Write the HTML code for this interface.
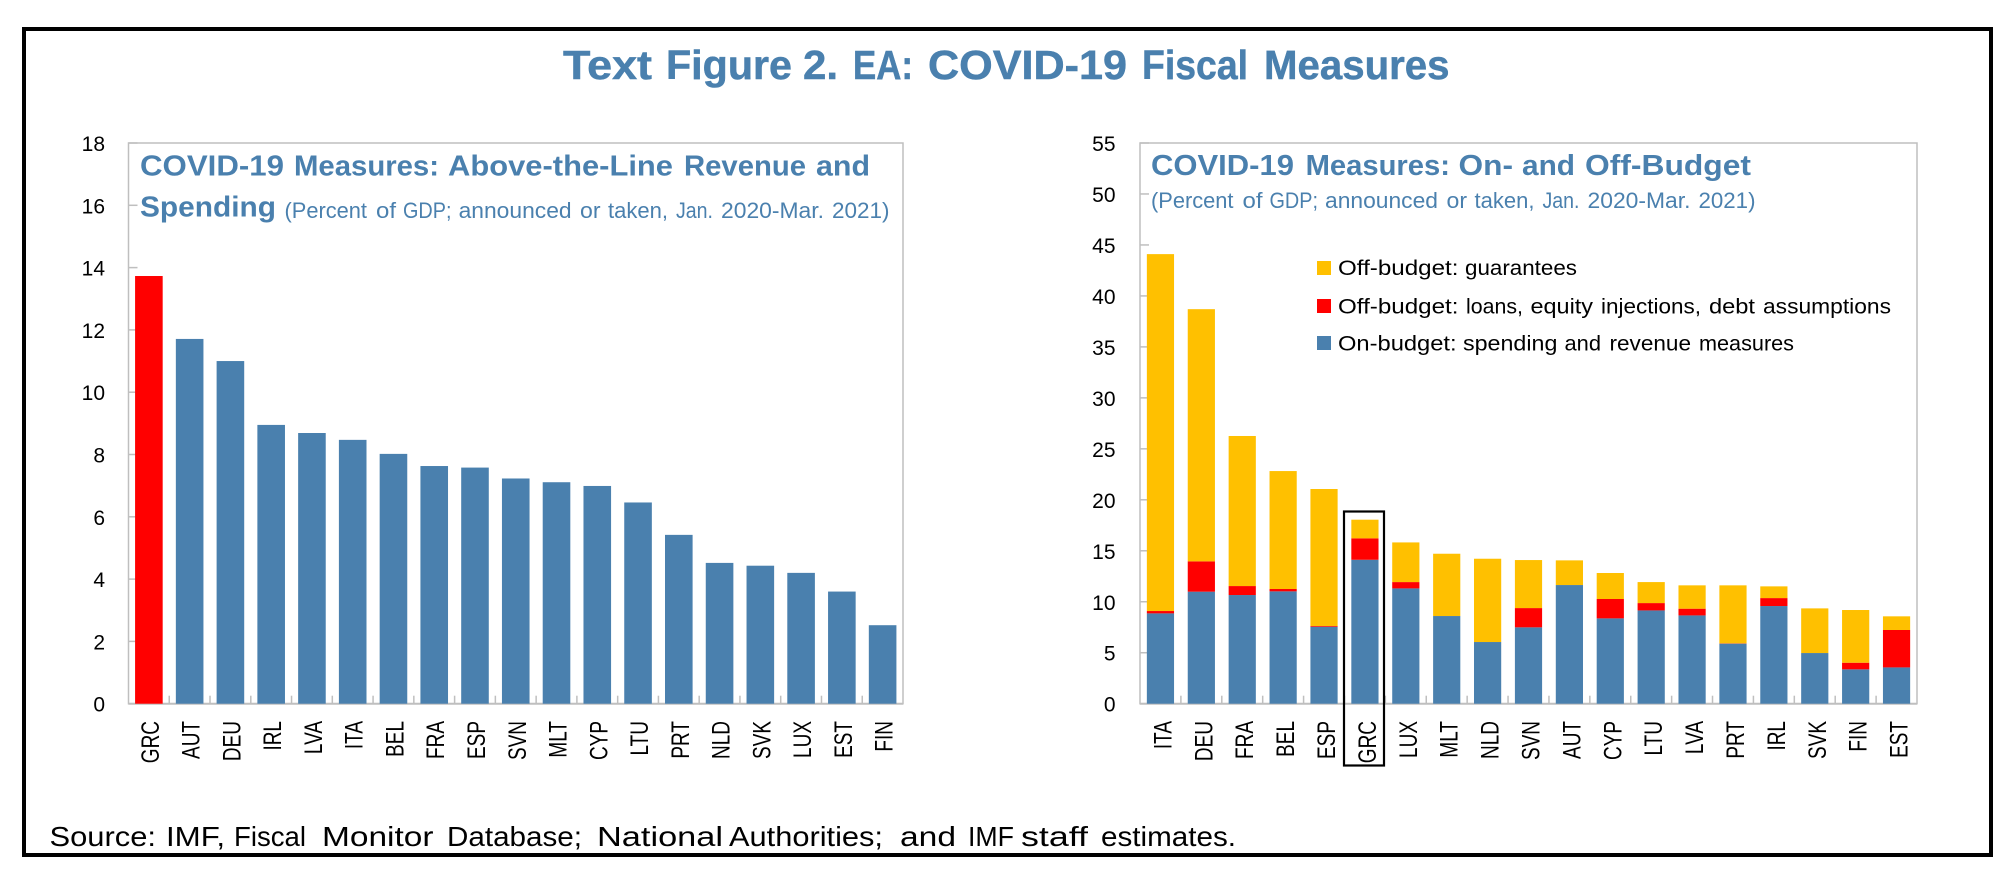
<!DOCTYPE html>
<html lang="en">
<head>
<meta charset="utf-8">
<title>Text Figure 2. EA: COVID-19 Fiscal Measures</title>
<style>
html,body{margin:0;padding:0;background:#fff;width:2014px;height:890px;overflow:hidden}
svg{display:block}
text{font-family:"Liberation Sans",sans-serif}
</style>
</head>
<body>
<svg id="figure" width="2014" height="890" viewBox="0 0 2014 890" xmlns="http://www.w3.org/2000/svg">
  <rect x="24" y="29" width="1967" height="826" fill="#fff" stroke="#000" stroke-width="4"/>
  <text y="79" font-size="41" font-weight="700" fill="#4a80ae" stroke="#4a80ae" stroke-width="0.5"><tspan x="563" textLength="89" lengthAdjust="spacingAndGlyphs">Text</tspan> <tspan x="666" textLength="126" lengthAdjust="spacingAndGlyphs">Figure</tspan> <tspan x="803" textLength="35" lengthAdjust="spacingAndGlyphs">2.</tspan> <tspan x="853" textLength="60" lengthAdjust="spacingAndGlyphs">EA:</tspan> <tspan x="928" textLength="199" lengthAdjust="spacingAndGlyphs">COVID-19</tspan> <tspan x="1142" textLength="106" lengthAdjust="spacingAndGlyphs">Fiscal</tspan> <tspan x="1264" textLength="185.5" lengthAdjust="spacingAndGlyphs">Measures</tspan></text>

  <g id="left-chart">
    <rect x="128.5" y="143" width="774.5" height="560.7" fill="#fff" stroke="#bfbfbf" stroke-width="1.5"/>
    <g id="left-marks"></g>
    <text y="175.5" font-size="29" font-weight="700" fill="#4a80ae"><tspan x="140" textLength="144" lengthAdjust="spacingAndGlyphs">COVID-19</tspan> <tspan x="294" textLength="145" lengthAdjust="spacingAndGlyphs">Measures:</tspan> <tspan x="448" textLength="225" lengthAdjust="spacingAndGlyphs">Above-the-Line</tspan> <tspan x="684" textLength="122" lengthAdjust="spacingAndGlyphs">Revenue</tspan> <tspan x="816" textLength="54" lengthAdjust="spacingAndGlyphs">and</tspan></text>
    <text x="140" y="216.5" font-size="29" font-weight="700" fill="#4a80ae" textLength="136" lengthAdjust="spacingAndGlyphs">Spending</text>
    <text y="218" font-size="22" fill="#4a80ae"><tspan x="284.5" textLength="82.5" lengthAdjust="spacingAndGlyphs">(Percent</tspan> <tspan x="376" textLength="20" lengthAdjust="spacingAndGlyphs">of</tspan> <tspan x="403" textLength="48.5" lengthAdjust="spacingAndGlyphs">GDP;</tspan> <tspan x="458.6" textLength="113" lengthAdjust="spacingAndGlyphs">announced</tspan> <tspan x="580" textLength="20.5" lengthAdjust="spacingAndGlyphs">or</tspan> <tspan x="608" textLength="60" lengthAdjust="spacingAndGlyphs">taken,</tspan> <tspan x="676" textLength="37" lengthAdjust="spacingAndGlyphs">Jan.</tspan> <tspan x="721" textLength="103" lengthAdjust="spacingAndGlyphs">2020-Mar.</tspan> <tspan x="832" textLength="57.5" lengthAdjust="spacingAndGlyphs">2021)</tspan></text>
  </g>

  <g id="right-chart">
    <rect x="1140" y="143" width="777" height="560.7" fill="#fff" stroke="#bfbfbf" stroke-width="1.5"/>
    <g id="right-marks"></g>
    <text y="175" font-size="29" font-weight="700" fill="#4a80ae"><tspan x="1151" textLength="143" lengthAdjust="spacingAndGlyphs">COVID-19</tspan> <tspan x="1305.6" textLength="144.4" lengthAdjust="spacingAndGlyphs">Measures:</tspan> <tspan x="1458.5" textLength="54.5" lengthAdjust="spacingAndGlyphs">On-</tspan> <tspan x="1522" textLength="53" lengthAdjust="spacingAndGlyphs">and</tspan> <tspan x="1585" textLength="166" lengthAdjust="spacingAndGlyphs">Off-Budget</tspan></text>
    <text y="208" font-size="22" fill="#4a80ae"><tspan x="1151" textLength="82.5" lengthAdjust="spacingAndGlyphs">(Percent</tspan> <tspan x="1242.5" textLength="20" lengthAdjust="spacingAndGlyphs">of</tspan> <tspan x="1269.5" textLength="48.5" lengthAdjust="spacingAndGlyphs">GDP;</tspan> <tspan x="1325" textLength="113" lengthAdjust="spacingAndGlyphs">announced</tspan> <tspan x="1446.5" textLength="20.5" lengthAdjust="spacingAndGlyphs">or</tspan> <tspan x="1474.5" textLength="60" lengthAdjust="spacingAndGlyphs">taken,</tspan> <tspan x="1542.5" textLength="37" lengthAdjust="spacingAndGlyphs">Jan.</tspan> <tspan x="1587.5" textLength="103" lengthAdjust="spacingAndGlyphs">2020-Mar.</tspan> <tspan x="1698.5" textLength="57" lengthAdjust="spacingAndGlyphs">2021)</tspan></text>
    <g>
      <g>
        <rect x="1317" y="261" width="14" height="14" fill="#ffc000"/>
        <text y="275" font-size="21" fill="#000"><tspan x="1338" textLength="120.5" lengthAdjust="spacingAndGlyphs">Off-budget:</tspan> <tspan x="1465" textLength="112" lengthAdjust="spacingAndGlyphs">guarantees</tspan></text>
      </g>
      <g>
        <rect x="1317" y="299" width="14" height="14" fill="#ff0000"/>
        <text y="313.5" font-size="21" fill="#000"><tspan x="1338" textLength="120.5" lengthAdjust="spacingAndGlyphs">Off-budget:</tspan> <tspan x="1466" textLength="57" lengthAdjust="spacingAndGlyphs">loans,</tspan> <tspan x="1530.5" textLength="62.5" lengthAdjust="spacingAndGlyphs">equity</tspan> <tspan x="1601" textLength="100" lengthAdjust="spacingAndGlyphs">injections,</tspan> <tspan x="1709" textLength="46" lengthAdjust="spacingAndGlyphs">debt</tspan> <tspan x="1763" textLength="128" lengthAdjust="spacingAndGlyphs">assumptions</tspan></text>
      </g>
      <g>
        <rect x="1317" y="336" width="14" height="14" fill="#4a80ae"/>
        <text y="350.5" font-size="21" fill="#000"><tspan x="1338" textLength="118.6" lengthAdjust="spacingAndGlyphs">On-budget:</tspan> <tspan x="1463" textLength="94.4" lengthAdjust="spacingAndGlyphs">spending</tspan> <tspan x="1564.5" textLength="36.5" lengthAdjust="spacingAndGlyphs">and</tspan> <tspan x="1609.5" textLength="81.5" lengthAdjust="spacingAndGlyphs">revenue</tspan> <tspan x="1699" textLength="95" lengthAdjust="spacingAndGlyphs">measures</tspan></text>
      </g>
    </g>
    <rect x="1344" y="511.5" width="40" height="254" fill="none" stroke="#000" stroke-width="2.2"/>
  </g>

  <text y="846" font-size="28" fill="#000"><tspan x="49.5" textLength="106.5" lengthAdjust="spacingAndGlyphs">Source:</tspan> <tspan x="166" textLength="59" lengthAdjust="spacingAndGlyphs">IMF,</tspan> <tspan x="234" textLength="72" lengthAdjust="spacingAndGlyphs">Fiscal</tspan> <tspan x="322" textLength="111.5" lengthAdjust="spacingAndGlyphs">Monitor</tspan> <tspan x="447" textLength="135" lengthAdjust="spacingAndGlyphs">Database;</tspan> <tspan x="597" textLength="126" lengthAdjust="spacingAndGlyphs">National</tspan> <tspan x="729" textLength="154" lengthAdjust="spacingAndGlyphs">Authorities;</tspan> <tspan x="900" textLength="56" lengthAdjust="spacingAndGlyphs">and</tspan> <tspan x="968" textLength="46" lengthAdjust="spacingAndGlyphs">IMF</tspan> <tspan x="1021" textLength="67" lengthAdjust="spacingAndGlyphs">staff</tspan> <tspan x="1101" textLength="135" lengthAdjust="spacingAndGlyphs">estimates.</tspan></text>
</svg>

<script>
const leftCategories = ["GRC","AUT","DEU","IRL","LVA","ITA","BEL","FRA","ESP","SVN","MLT","CYP","LTU","PRT","NLD","SVK","LUX","EST","FIN"];
const leftValues = [13.73,11.71,11.0,8.95,8.69,8.47,8.02,7.63,7.58,7.23,7.11,6.99,6.46,5.42,4.52,4.43,4.2,3.6,2.52];
const leftTicks = [0,2,4,6,8,10,12,14,16,18];

const rightCategories = ["ITA","DEU","FRA","BEL","ESP","GRC","LUX","MLT","NLD","SVN","AUT","CYP","LTU","LVA","PRT","IRL","SVK","FIN","EST"];
const onBudget = [8.86,10.99,10.66,11.02,7.55,14.12,11.31,8.6,6.05,7.49,11.64,8.37,9.15,8.66,5.89,9.58,4.97,3.37,3.56];
const loans = [0.23,2.97,0.88,0.23,0.07,2.1,0.62,0,0,1.89,0,1.9,0.72,0.66,0.03,0.78,0,0.65,3.67];
const guarantees = [35.01,24.74,14.72,11.57,13.44,1.83,3.89,6.11,8.17,4.71,2.42,2.55,2.06,2.29,5.69,1.15,4.38,5.17,1.34];
const rightTicks = [0,5,10,15,20,25,30,35,40,45,50,55];

const NS = "http://www.w3.org/2000/svg";
const BLUE = "#4a80ae", RED = "#ff0000", YELLOW = "#ffc000", GRID = "#bfbfbf";

function svgEl(tag) { return document.createElementNS(NS, tag); }

function drawAxes(root, cats, ticks, maxV, left, right, top, bottom, labelX, labelShift) {
  const n = cats.length;
  const step = (right - left) / n;
  const y = function (v) { return bottom - (v / maxV) * (bottom - top); };
  ticks.forEach(function (t) {
    const tick = svgEl("line");
    tick.setAttribute("x1", left);
    tick.setAttribute("x2", left + 9);
    tick.setAttribute("y1", y(t));
    tick.setAttribute("y2", y(t));
    tick.setAttribute("stroke", GRID);
    tick.setAttribute("stroke-width", "1.5");
    
    
    root.appendChild(tick);
    const lab = svgEl("text");
    lab.setAttribute("x", labelX);
    lab.setAttribute("y", y(t) + 8);
    lab.setAttribute("text-anchor", "end");
    lab.setAttribute("font-size", "21");
    lab.setAttribute("fill", "#000");
    lab.textContent = String(t);
    
    
    root.appendChild(lab);
  });
  cats.forEach(function (c, i) {
    if (i > 0) {
      const tick = svgEl("line");
      tick.setAttribute("x1", left + i * step);
      tick.setAttribute("x2", left + i * step);
      tick.setAttribute("y1", bottom);
      tick.setAttribute("y2", bottom - 8);
      tick.setAttribute("stroke", GRID);
      tick.setAttribute("stroke-width", "1.5");
      
      
      root.appendChild(tick);
    }
    const lab = svgEl("text");
    const cx = left + (i + 0.5) * step + labelShift;
    lab.setAttribute("transform", "translate(" + (cx + 10) + ",721) rotate(-90) scale(0.76,1)");
    lab.setAttribute("text-anchor", "end");
    lab.setAttribute("font-size", "25");
    lab.setAttribute("fill", "#000");
    lab.textContent = c;
    
    
    root.appendChild(lab);
  });
  const axis = svgEl("line");
  axis.setAttribute("x1", left);
  axis.setAttribute("x2", right);
  axis.setAttribute("y1", bottom);
  axis.setAttribute("y2", bottom);
  axis.setAttribute("stroke", GRID);
  axis.setAttribute("stroke-width", "2");
  
  
  root.appendChild(axis);
  return { y: y, step: step };
}

function drawBar(root, x, w, y0, y1, fill, name) {
  const r = svgEl("rect");
  r.setAttribute("x", x);
  r.setAttribute("y", y1);
  r.setAttribute("width", w);
  r.setAttribute("height", Math.max(0, y0 - y1));
  r.setAttribute("fill", fill);
  
  
  root.appendChild(r);
}

/* Left chart */
(function () {
  const left = 128.5, right = 903, top = 143, bottom = 703.7, barW = 27.6;
  const root = document.getElementById("left-marks");
  const ax = drawAxes(root, leftCategories, leftTicks, 18, left, right, top, bottom, 105, 0);
  leftCategories.forEach(function (c, i) {
    const cx = left + (i + 0.5) * ax.step;
    drawBar(root, cx - barW / 2, barW, bottom, ax.y(leftValues[i]), c === "GRC" ? RED : BLUE, "bar-" + c.toLowerCase());
  });
})();

/* Right chart */
(function () {
  const left = 1140, right = 1917, top = 143, bottom = 703.7, barW = 27.2;
  const root = document.getElementById("right-marks");
  const ax = drawAxes(root, rightCategories, rightTicks, 55, left, right, top, bottom, 1115.5, 1);
  rightCategories.forEach(function (c, i) {
    const cx = left + (i + 0.5) * ax.step;
    const x = cx - barW / 2;
    const a = onBudget[i], b = a + loans[i], d = b + guarantees[i];
    drawBar(root, x, barW, ax.y(0), ax.y(a), BLUE, "on-budget-bar-" + c.toLowerCase());
    drawBar(root, x, barW, ax.y(a), ax.y(b), RED, "loans-bar-" + c.toLowerCase());
    drawBar(root, x, barW, ax.y(b), ax.y(d), YELLOW, "guarantees-bar-" + c.toLowerCase());
  });
})();
</script>
</body>
</html>
